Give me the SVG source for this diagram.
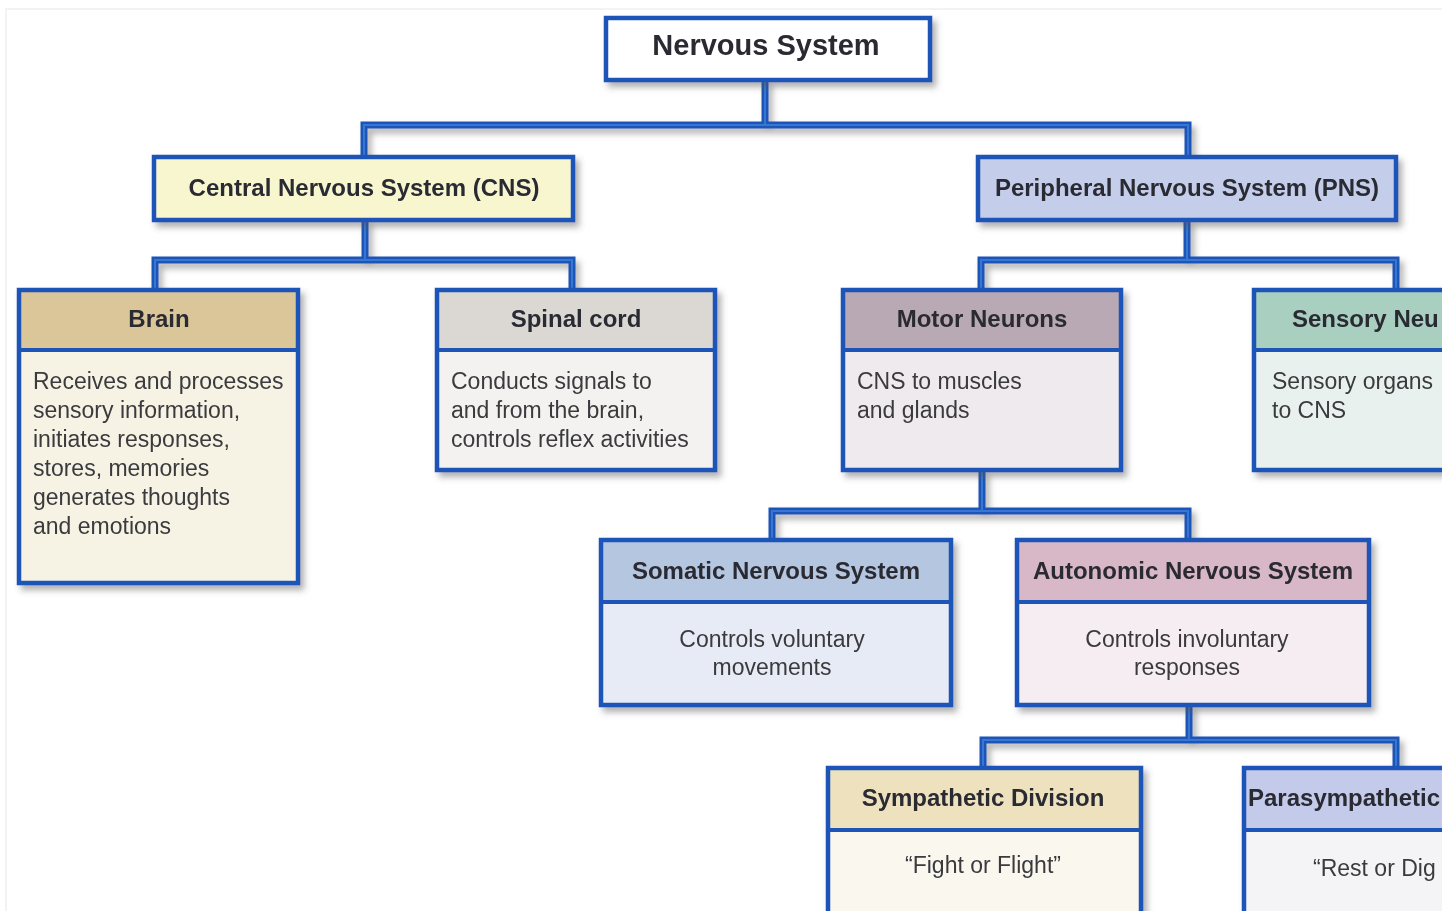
<svg xmlns="http://www.w3.org/2000/svg" width="1442" height="911" viewBox="0 0 1442 911">
<defs>
<filter id="sh" x="-10%" y="-10%" width="130%" height="140%">
<feDropShadow dx="4" dy="5" stdDeviation="3" flood-color="#555" flood-opacity="0.45"/>
</filter>
<path id="cpath" d="M765 80 V125 M364 157 V125 H1188 V157 M365 220 V260 M155 290 V260 H572 V290 M1187 220 V260 M981 290 V260 H1396 V290 M982 470 V511 M772 540 V511 H1188 V540 M1189 705 V740 M983 768 V740 H1396 V768"/>
</defs>
<style>
.bd{fill:none;stroke:#1d55b7;stroke-width:4.5}
.dv{stroke:#1d55b7;stroke-width:4}
.h{font-family:"Liberation Sans",Arial,sans-serif;font-weight:bold;font-size:24px;fill:#2a2a33;text-anchor:middle}
.t{font-family:"Liberation Sans",Arial,sans-serif;font-size:23px;fill:#3a3a3e}
.c{text-anchor:middle}
.co{fill:none;stroke:#1d55b7;stroke-width:7;stroke-linejoin:miter}
.ci{fill:none;stroke:#3577d2;stroke-width:2}
</style>
<rect x="0" y="0" width="1442" height="911" fill="#ffffff"/>
<path d="M6 911 V9 H1442" fill="none" stroke="#f3f3f3" stroke-width="2"/>

<g id="connectors">
<use href="#cpath" class="co" filter="url(#sh)"/>
<use href="#cpath" class="ci"/>
</g>

<g id="nervous-system" filter="url(#sh)">
<rect x="606" y="18" width="324" height="62" fill="#ffffff"/>
<rect x="606" y="18" width="324" height="62" class="bd"/>
<text x="766" y="55" class="h" style="font-size:29px">Nervous System</text>
</g>

<g id="cns" filter="url(#sh)">
<rect x="154" y="157" width="419" height="63" fill="#f8f6cf"/>
<rect x="154" y="157" width="419" height="63" class="bd"/>
<text x="364" y="196" class="h">Central Nervous System (CNS)</text>
</g>

<g id="pns" filter="url(#sh)">
<rect x="978" y="157" width="418" height="63" fill="#c4cde9"/>
<rect x="978" y="157" width="418" height="63" class="bd"/>
<text x="1187" y="196" class="h">Peripheral Nervous System (PNS)</text>
</g>

<g id="brain" filter="url(#sh)">
<rect x="19" y="290" width="279" height="293" fill="#f6f2e4"/>
<rect x="19" y="290" width="279" height="60" fill="#dac698"/>
<line x1="19" y1="350" x2="298" y2="350" class="dv"/>
<rect x="19" y="290" width="279" height="293" class="bd"/>
<text x="159" y="327" class="h">Brain</text>
<text class="t"><tspan x="33" y="389">Receives and processes</tspan><tspan x="33" y="418">sensory information,</tspan><tspan x="33" y="447">initiates responses,</tspan><tspan x="33" y="476">stores, memories</tspan><tspan x="33" y="505">generates thoughts</tspan><tspan x="33" y="534">and emotions</tspan></text>
</g>

<g id="spinal-cord" filter="url(#sh)">
<rect x="437" y="290" width="278" height="180" fill="#f3f2f1"/>
<rect x="437" y="290" width="278" height="60" fill="#dbd8d3"/>
<line x1="437" y1="350" x2="715" y2="350" class="dv"/>
<rect x="437" y="290" width="278" height="180" class="bd"/>
<text x="576" y="327" class="h">Spinal cord</text>
<text class="t"><tspan x="451" y="389">Conducts signals to</tspan><tspan x="451" y="418">and from the brain,</tspan><tspan x="451" y="447">controls reflex activities</tspan></text>
</g>

<g id="motor-neurons" filter="url(#sh)">
<rect x="843" y="290" width="278" height="180" fill="#efeaee"/>
<rect x="843" y="290" width="278" height="60" fill="#b9a9b5"/>
<line x1="843" y1="350" x2="1121" y2="350" class="dv"/>
<rect x="843" y="290" width="278" height="180" class="bd"/>
<text x="982" y="327" class="h">Motor Neurons</text>
<text class="t"><tspan x="857" y="389">CNS to muscles</tspan><tspan x="857" y="418">and glands</tspan></text>
</g>

<g id="sensory-neurons" filter="url(#sh)">
<rect x="1254" y="290" width="280" height="180" fill="#e9f1ee"/>
<rect x="1254" y="290" width="280" height="60" fill="#a9cfc0"/>
<line x1="1254" y1="350" x2="1534" y2="350" class="dv"/>
<rect x="1254" y="290" width="280" height="180" class="bd"/>
<text x="1292" y="327" class="h" style="text-anchor:start">Sensory Neu</text>
<text class="t"><tspan x="1272" y="389">Sensory organs</tspan><tspan x="1272" y="418">to CNS</tspan></text>
</g>

<g id="somatic" filter="url(#sh)">
<rect x="601" y="540" width="350" height="165" fill="#e7ebf5"/>
<rect x="601" y="540" width="350" height="62" fill="#b5c6e0"/>
<line x1="601" y1="602" x2="951" y2="602" class="dv"/>
<rect x="601" y="540" width="350" height="165" class="bd"/>
<text x="776" y="579" class="h">Somatic Nervous System</text>
<text class="t c"><tspan x="772" y="647">Controls voluntary</tspan><tspan x="772" y="675">movements</tspan></text>
</g>

<g id="autonomic" filter="url(#sh)">
<rect x="1017" y="540" width="352" height="165" fill="#f5edf1"/>
<rect x="1017" y="540" width="352" height="62" fill="#d8b8c6"/>
<line x1="1017" y1="602" x2="1369" y2="602" class="dv"/>
<rect x="1017" y="540" width="352" height="165" class="bd"/>
<text x="1193" y="579" class="h">Autonomic Nervous System</text>
<text class="t c"><tspan x="1187" y="647">Controls involuntary</tspan><tspan x="1187" y="675">responses</tspan></text>
</g>

<g id="sympathetic" filter="url(#sh)">
<rect x="828" y="768" width="313" height="160" fill="#faf7ee"/>
<rect x="828" y="768" width="313" height="62" fill="#eee1bd"/>
<line x1="828" y1="830" x2="1141" y2="830" class="dv"/>
<rect x="828" y="768" width="313" height="160" class="bd"/>
<text x="983" y="806" class="h">Sympathetic Division</text>
<text x="983" y="873" class="t c">“Fight or Flight”</text>
</g>

<g id="parasympathetic" filter="url(#sh)">
<rect x="1244" y="768" width="310" height="160" fill="#f4f4f6"/>
<rect x="1244" y="768" width="310" height="62" fill="#c4cbea"/>
<line x1="1244" y1="830" x2="1554" y2="830" class="dv"/>
<rect x="1244" y="768" width="310" height="160" class="bd"/>
<text x="1248" y="806" class="h" style="text-anchor:start">Parasympathetic</text>
<text x="1313" y="876" class="t">“Rest or Dig</text>
</g>
</svg>
